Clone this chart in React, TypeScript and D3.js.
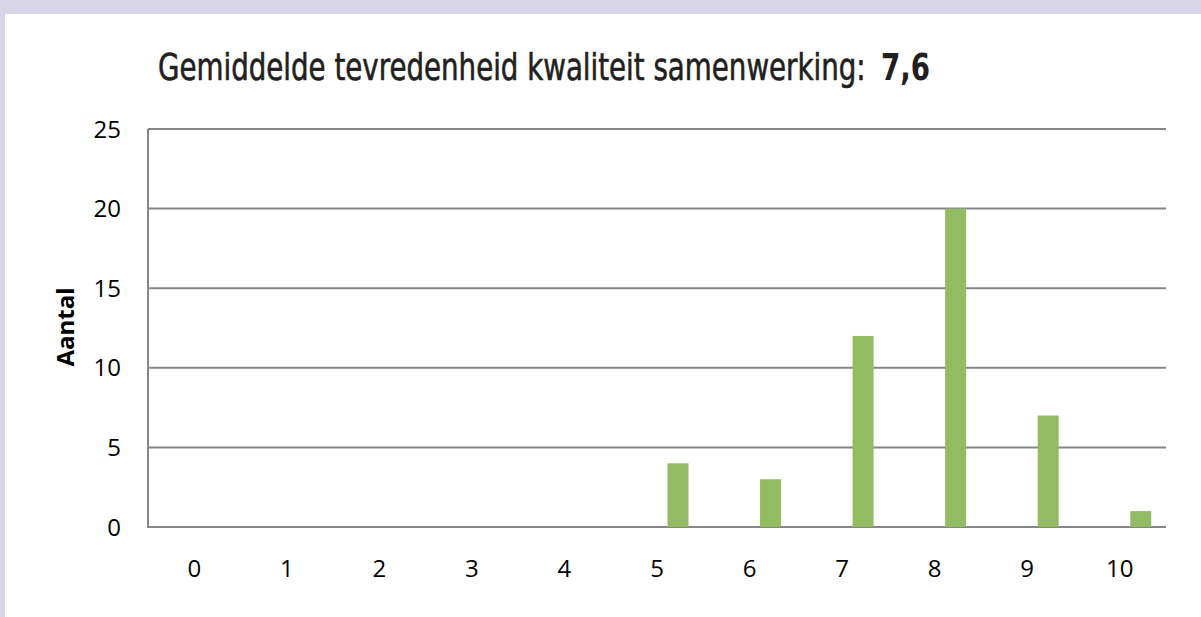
import React from "react";
import { scaleBand, scaleLinear } from "d3";

const categories = ["0", "1", "2", "3", "4", "5", "6", "7", "8", "9", "10"];
const counts = [0, 0, 0, 0, 0, 4, 3, 12, 20, 7, 1];
const yTicks = [0, 5, 10, 15, 20, 25];
// the chart was built with three series, only the third one holds values
const seriesSlots = ["a", "b", "c"];
const titleText = "Gemiddelde tevredenheid kwaliteit samenwerking:";
const titleValue = "7,6";

const W = 1201;
const H = 617;
const left = 148;
const right = 1166;
const top = 129;
const bottom = 527;

// squeeze the title horizontally, the original font is a narrow DIN-like face
const titleSqueeze = 0.832;

const App = () => {
  const x = scaleBand().domain(categories).range([left, right]);
  const y = scaleLinear().domain([0, 25]).range([bottom, top]);
  const slot = scaleBand().domain(seriesSlots).range([-31.5, 31.5]);

  const tickFont = "'Open Sans', 'Liberation Sans', sans-serif";
  const titleFont = "'DejaVu Sans Condensed', 'DejaVu Sans', sans-serif";

  return (
    <svg
      width={W}
      height={H}
      style={{ position: "absolute", left: 0, top: 0 }}
    >
      <rect x={0} y={0} width={W} height={H} fill="#d8d4ea" />
      <rect x={5} y={14} width={W - 5} height={H - 14} fill="#ffffff" />

      <g transform={`translate(158, 80) scale(${titleSqueeze}, 1)`}>
        <text
          x={0}
          y={0}
          fontFamily={titleFont}
          fontSize={37}
          fill="#231f20"
          stroke="#231f20"
          strokeWidth={0.6}
        >
          {titleText}
        </text>
        <text
          x={(881 - 158) / titleSqueeze}
          y={0}
          fontFamily={titleFont}
          fontSize={37}
          fontWeight="bold"
          fill="#231f20"
        >
          {titleValue}
        </text>
      </g>

      {yTicks.map((t) => (
        <g key={t}>
          <line
            x1={left}
            x2={right}
            y1={y(t)}
            y2={y(t)}
            stroke="#868686"
            strokeWidth={2}
          />
          <text
            x={121}
            y={y(t)}
            dy="0.36em"
            textAnchor="end"
            fontFamily={tickFont}
            fontSize={24}
            fill="#000"
          >
            {t}
          </text>
        </g>
      ))}
      <line
        x1={left}
        x2={left}
        y1={top}
        y2={bottom + 1}
        stroke="#868686"
        strokeWidth={2}
      />

      {categories.map((c, i) =>
        counts[i] > 0 ? (
          <rect
            key={c}
            x={x(c)! + x.bandwidth() / 2 + slot("c")!}
            y={y(counts[i])}
            width={slot.bandwidth()}
            height={y(0) - y(counts[i])}
            fill="#93bb62"
          />
        ) : null
      )}

      {categories.map((c) => (
        <text
          key={c}
          x={x(c)! + x.bandwidth() / 2}
          y={577}
          textAnchor="middle"
          fontFamily={tickFont}
          fontSize={24}
          fill="#000"
        >
          {c}
        </text>
      ))}

      <text
        transform={`translate(74, 327) rotate(-90)`}
        textAnchor="middle"
        fontFamily={tickFont}
        fontSize={24}
        fontWeight="bold"
        fill="#000"
      >
        Aantal
      </text>
    </svg>
  );
};

export default App;
